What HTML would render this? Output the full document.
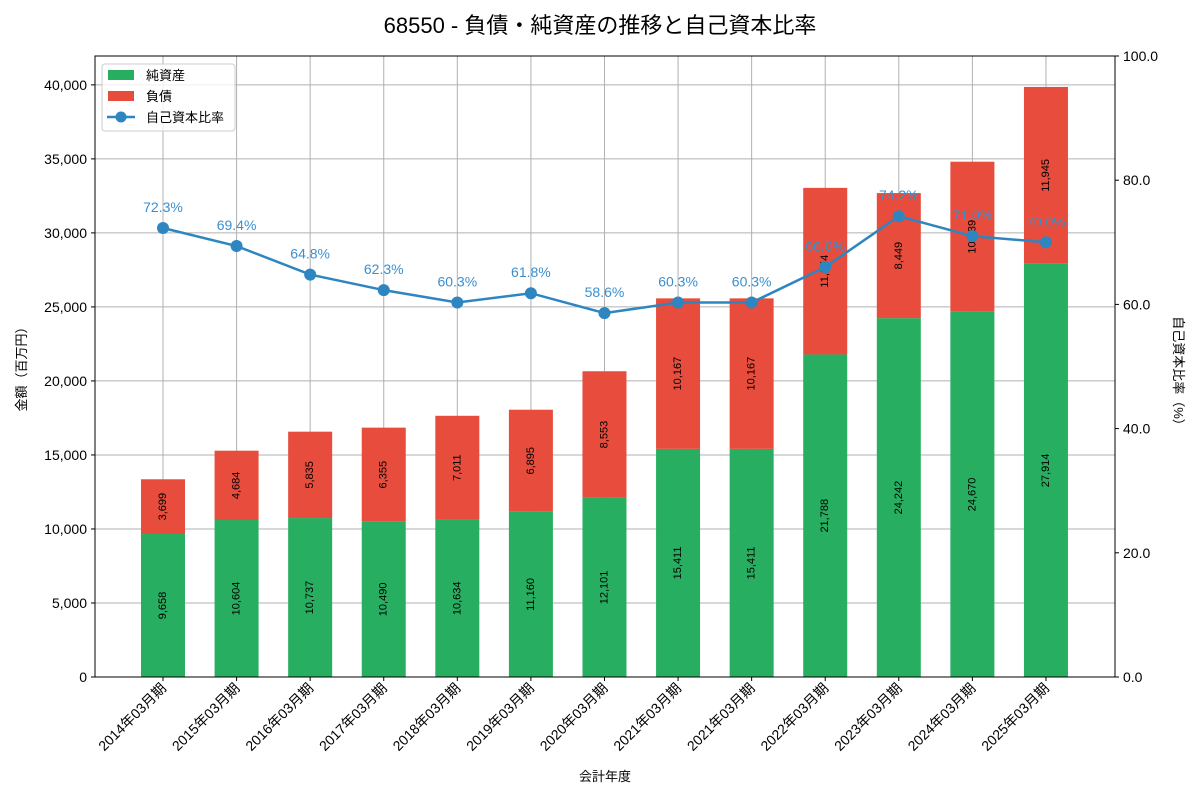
<!DOCTYPE html>
<html><head><meta charset="utf-8"><style>
body{margin:0;background:#fff;font-family:"Liberation Sans","Noto Sans CJK JP",sans-serif}
svg text{font-family:"Liberation Sans","Noto Sans CJK JP",sans-serif}
</style></head><body>
<svg id="c" width="1200" height="800" xmlns="http://www.w3.org/2000/svg"></svg>
<script>
const categories=["2014年03月期","2015年03月期","2016年03月期","2017年03月期","2018年03月期","2019年03月期","2020年03月期","2021年03月期","2021年03月期","2022年03月期","2023年03月期","2024年03月期","2025年03月期"];
const netAssets=[9658,10604,10737,10490,10634,11160,12101,15411,15411,21788,24242,24670,27914];
const liabilities=[3699,4684,5835,6355,7011,6895,8553,10167,10167,11254,8449,10139,11945];
const equityRatio=[72.3,69.4,64.8,62.3,60.3,61.8,58.6,60.3,60.3,66.0,74.2,71.0,70.0];
const leftTicks=[0,5000,10000,15000,20000,25000,30000,35000,40000];
const rightTicks=[0,20,40,60,80,100];

const svg=document.getElementById('c');const NS="http://www.w3.org/2000/svg";
const L=95,R=1115,T=56,B=677;
const yMax=41950;
const xS=i=>163+i*73.58;
const yL=v=>B-(v/yMax)*(B-T);
const yR=v=>B-(v/100)*(B-T);
function mk(tag,attrs,name,parent){const e=document.createElementNS(NS,tag);for(const k in attrs)e.setAttribute(k,attrs[k]);


(parent||svg).appendChild(e);return e;}
function txt(s,attrs,name){const e=mk('text',attrs,name);e.textContent=s;return e;}
const fmt=v=>v.toLocaleString('en-US');

txt("68550 - 負債・純資産の推移と自己資本比率",{x:600,y:33,'text-anchor':'middle','font-size':22,fill:'#000'},'chart-title');
// grid
leftTicks.forEach(v=>{mk('line',{x1:L,x2:R,y1:yL(v),y2:yL(v),stroke:'#b0b0b0','stroke-width':1},'grid-line-y');});
categories.forEach((c,i)=>{mk('line',{x1:xS(i),x2:xS(i),y1:T,y2:B,stroke:'#b0b0b0','stroke-width':1},'grid-line-x');});
// bars
const bw=44;
categories.forEach((c,i)=>{
  const x=xS(i)-bw/2;
  mk('rect',{x:x,y:yL(netAssets[i]),width:bw,height:B-yL(netAssets[i]),fill:'#27ae60'},'bar-net-assets');
  const top=netAssets[i]+liabilities[i];
  mk('rect',{x:x,y:yL(top),width:bw,height:yL(netAssets[i])-yL(top),fill:'#e74c3c'},'bar-liabilities');
  const y1=(yL(0)+yL(netAssets[i]))/2, y2=(yL(netAssets[i])+yL(top))/2;
  txt(fmt(netAssets[i]),{x:xS(i),y:y1,transform:`rotate(-90 ${xS(i)} ${y1})`,'text-anchor':'middle','dominant-baseline':'central','font-size':11,fill:'#000'},'net-assets-value-label');
  txt(fmt(liabilities[i]),{x:xS(i),y:y2,transform:`rotate(-90 ${xS(i)} ${y2})`,'text-anchor':'middle','dominant-baseline':'central','font-size':11,fill:'#000'},'liabilities-value-label');
});
// line
mk('polyline',{points:equityRatio.map((v,i)=>xS(i)+','+yR(v)).join(' '),fill:'none',stroke:'#2e86c1','stroke-width':2.5},'equity-ratio-line');
equityRatio.forEach((v,i)=>{
  mk('circle',{cx:xS(i),cy:yR(v),r:6,fill:'#2e86c1'},'equity-ratio-point');
  txt(v.toFixed(1)+'%',{x:xS(i),y:yR(v)-16,'text-anchor':'middle','font-size':14,fill:'#3a8fd0'},'equity-ratio-value-label');
});
// axes frame
mk('rect',{x:L,y:T,width:R-L,height:B-T,fill:'none',stroke:'#000','stroke-width':1},'plot-frame');
leftTicks.forEach(v=>{mk('line',{x1:L-4,x2:L,y1:yL(v),y2:yL(v),stroke:'#000'},'y-tick');
  txt(fmt(v),{x:L-8,y:yL(v)+5,'text-anchor':'end','font-size':14},'y-tick-label');});
rightTicks.forEach(v=>{mk('line',{x1:R,x2:R+4,y1:yR(v),y2:yR(v),stroke:'#000'},'y2-tick');
  txt(v.toFixed(1),{x:R+8,y:yR(v)+5,'font-size':14},'y2-tick-label');});
categories.forEach((c,i)=>{mk('line',{x1:xS(i),x2:xS(i),y1:B,y2:B+4,stroke:'#000'},'x-tick');
  const x=xS(i)+4,y=B+12;
  txt(c,{x:x,y:y,transform:`rotate(-45 ${x} ${y})`,'text-anchor':'end','font-size':14},'x-tick-label');});
txt("会計年度",{x:605,y:781,'text-anchor':'middle','font-size':13},'x-axis-title');
txt("金額（百万円）",{x:26,y:366,transform:'rotate(-90 26 366)','text-anchor':'middle','font-size':13},'y-axis-title');
txt("自己資本比率（%）",{x:1174,y:374,transform:'rotate(90 1174 374)','text-anchor':'middle','font-size':13},'y2-axis-title');
// legend
const lg=mk('g',{},'legend');
mk('rect',{x:102,y:64,width:133,height:67,rx:3,fill:'#fff','fill-opacity':0.8,stroke:'#ccc'},'legend-box',lg);
mk('rect',{x:108,y:70,width:26,height:10,fill:'#27ae60'},'legend-swatch-net-assets',lg);
txt("純資産",{x:146,y:80,'font-size':13},'legend-label-net-assets');
mk('rect',{x:108,y:91,width:26,height:10,fill:'#e74c3c'},'legend-swatch-liabilities',lg);
txt("負債",{x:146,y:101,'font-size':13},'legend-label-liabilities');
mk('line',{x1:107,x2:135,y1:117,y2:117,stroke:'#2e86c1','stroke-width':2.5},'legend-line-equity-ratio',lg);
mk('circle',{cx:121,cy:117,r:5.5,fill:'#2e86c1'},'legend-marker-equity-ratio',lg);
txt("自己資本比率",{x:146,y:122,'font-size':13},'legend-label-equity-ratio');
</script></body></html>
